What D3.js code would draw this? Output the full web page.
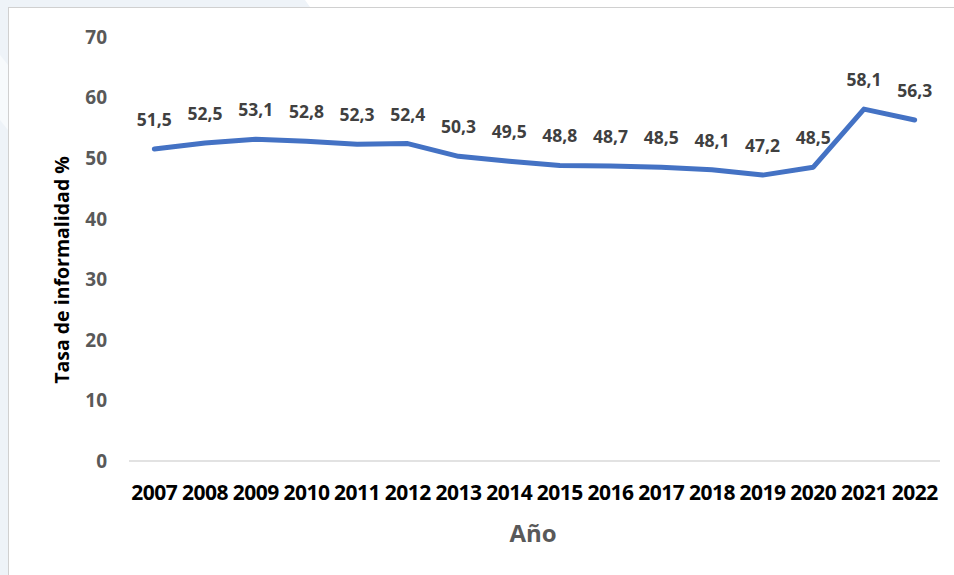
<!DOCTYPE html>
<html>
<head>
<meta charset="utf-8">
<script src="https://cdn.jsdelivr.net/npm/d3@7"></script>
<style>
  body { margin: 0; background: #eef3f8; }
  svg { display: block; }
</style>
</head>
<body>
<div id="chart"></div>
<script>
var years = ["2007","2008","2009","2010","2011","2012","2013","2014","2015","2016","2017","2018","2019","2020","2021","2022"];
var tasa = [51.5, 52.5, 53.1, 52.8, 52.3, 52.4, 50.3, 49.5, 48.8, 48.7, 48.5, 48.1, 47.2, 48.5, 58.1, 56.3];
var yTicks = [0, 10, 20, 30, 40, 50, 60, 70];

var W = 954, H = 575;
var font = "'Open Sans', sans-serif";

var svg = d3.select("#chart")
  .append("svg")
  .attr("width", W)
  .attr("height", H);

// background decoration
svg.append("rect").attr("width", W).attr("height", H).attr("fill", "#eef3f8");
svg.append("path").attr("d", "M305,0 L954,0 L954,7 L310,7 Z").attr("fill", "#ffffff");
svg.append("path").attr("d", "M0,55 L8,65 L8,130 L0,120 Z").attr("fill", "#f7fafc");

// chart frame
svg.append("rect")
  .attr("x", 8.5).attr("y", 7.5)
  .attr("width", W).attr("height", H)
  .attr("fill", "#fff")
  .attr("stroke", "#d0d0d0");

var plotL = 129, plotR = 940, plotT = 37, plotB = 461;

var x = d3.scaleBand().domain(years).range([plotL, plotR]);
var y = d3.scaleLinear().domain([0, 70]).range([plotB, plotT]);

// x axis line
svg.append("line")
  .attr("x1", plotL).attr("x2", plotR)
  .attr("y1", y(0)).attr("y2", y(0))
  .attr("stroke", "#d9d9d9").attr("stroke-width", 1.5);

// y tick labels
svg.append("g").selectAll("text")
  .data(yTicks).enter().append("text")
  .attr("x", 107)
  .attr("y", function(d){ return y(d); })
  .attr("dy", "0.36em")
  .attr("text-anchor", "end")
  .attr("font-family", font)
  .attr("font-weight", "bold")
  .attr("font-size", 19)
  .attr("fill", "#595959")
  .text(function(d){ return d; });

// x tick labels
svg.append("g").selectAll("text")
  .data(years).enter().append("text")
  .attr("x", function(d){ return x(d) + x.bandwidth() / 2; })
  .attr("y", 500)
  .attr("text-anchor", "middle")
  .attr("font-family", font)
  .attr("font-weight", "bold")
  .attr("font-size", 21)
  .attr("letter-spacing", "-0.5px")
  .attr("fill", "#000")
  .text(function(d){ return d; });

// line
var line = d3.line()
  .x(function(d, i){ return x(years[i]) + x.bandwidth() / 2; })
  .y(function(d){ return y(d); });

svg.append("path")
  .datum(tasa)
  .attr("d", line)
  .attr("fill", "none")
  .attr("stroke", "#4472c4")
  .attr("stroke-width", 5)
  .attr("stroke-linejoin", "round")
  .attr("stroke-linecap", "round");

// data labels
svg.append("g").selectAll("text")
  .data(tasa).enter().append("text")
  .attr("x", function(d, i){ return x(years[i]) + x.bandwidth() / 2; })
  .attr("y", function(d){ return y(d) - 23; })
  .attr("text-anchor", "middle")
  .attr("font-family", font)
  .attr("font-weight", "bold")
  .attr("font-size", 17.5)
  .attr("fill", "#404040")
  .text(function(d){ return d.toFixed(1).replace(".", ","); });

// axis titles
svg.append("text")
  .attr("x", 533).attr("y", 542)
  .attr("text-anchor", "middle")
  .attr("font-family", font)
  .attr("font-weight", "bold")
  .attr("font-size", 24)
  .attr("fill", "#595959")
  .text("Año");

svg.append("text")
  .attr("transform", "translate(69,270) rotate(-90)")
  .attr("text-anchor", "middle")
  .attr("font-family", font)
  .attr("font-weight", "bold")
  .attr("font-size", 19.5)
  .attr("fill", "#000")
  .text("Tasa de informalidad %");
</script>
</body>
</html>
